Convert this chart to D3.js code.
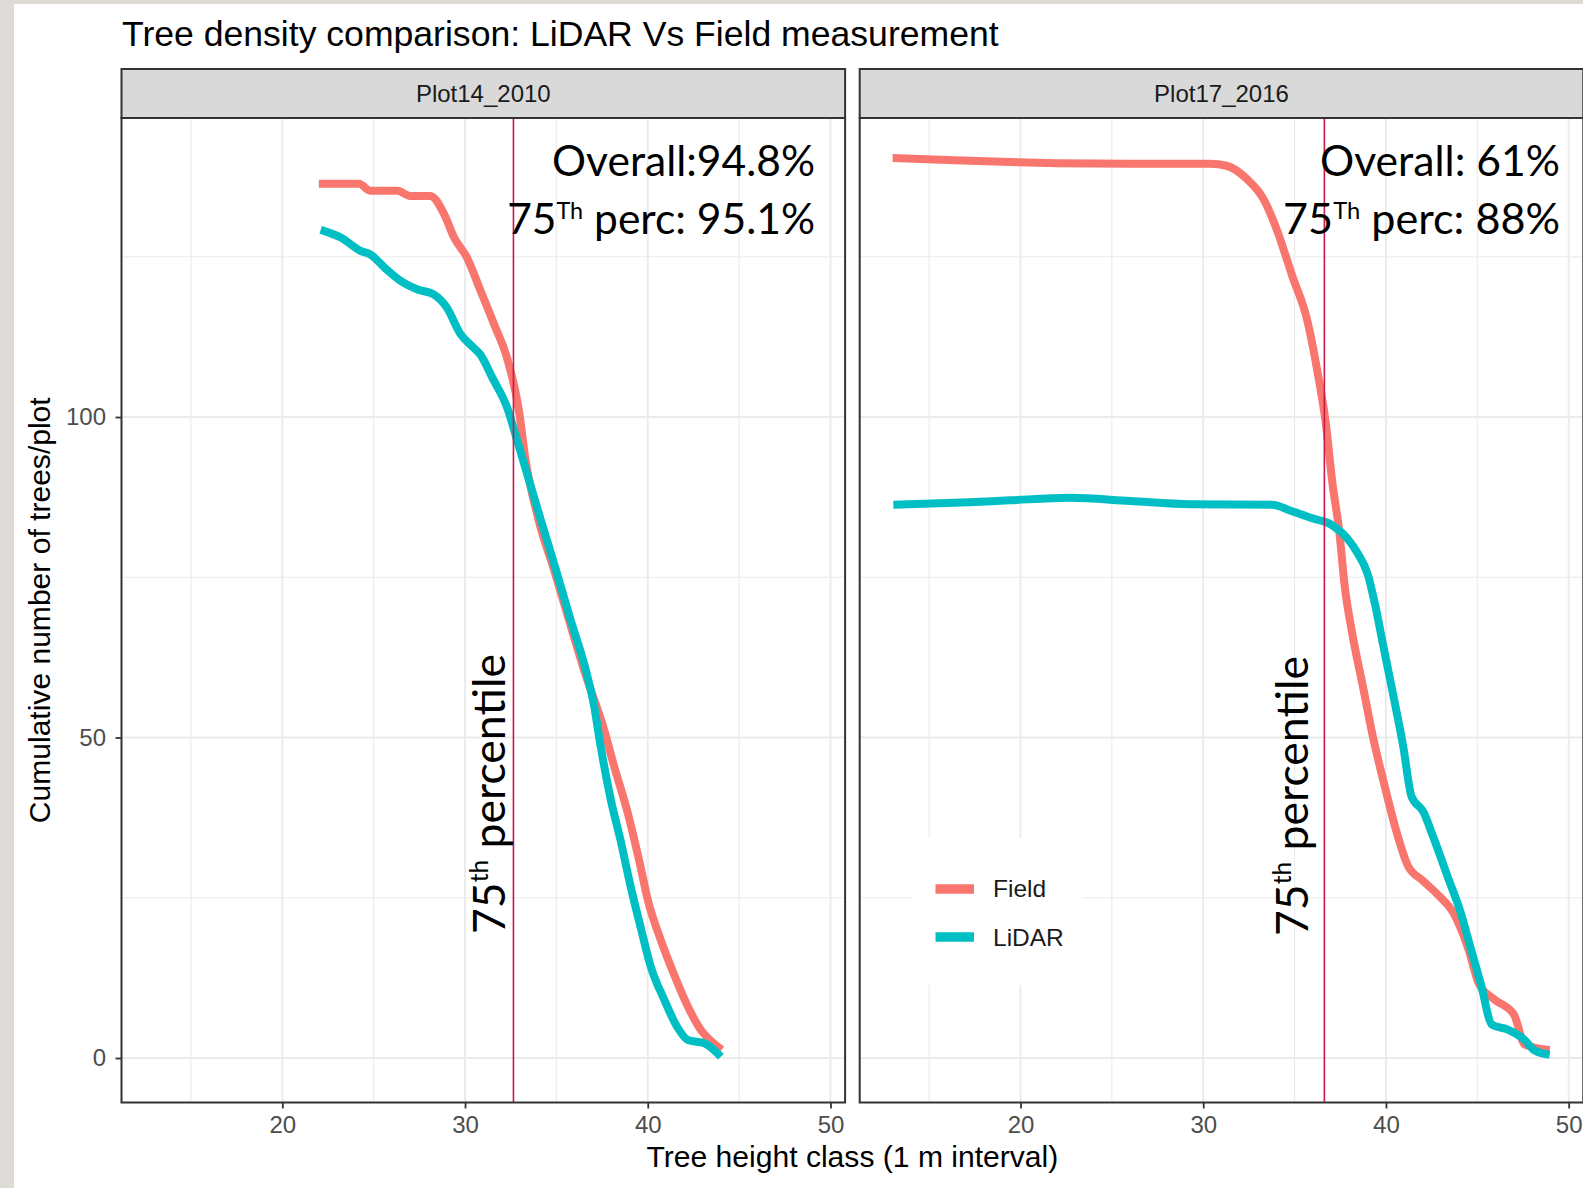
<!DOCTYPE html>
<html>
<head>
<meta charset="utf-8">
<script src="https://cdn.jsdelivr.net/npm/d3@7"></script>
<style>
  html, body { margin: 0; padding: 0; background: #ffffff; }
  svg { display: block; }
</style>
</head>
<body>
<svg id="chart" width="1583" height="1188"></svg>
<script>
// ---- Data: cumulative number of trees per plot by tree height class ----
const panelNames = ["Plot14_2010", "Plot17_2016"];
const seriesNames = ["Field", "LiDAR"];
const seriesColors = ["#F8766D", "#00BFC4"];

// Plot14_2010
const plot14FieldHeight = [22, 24.2, 24.8, 26.3, 27.0, 28.1, 28.85, 29.4, 30.1, 30.85, 31.6, 32.3, 32.95, 33.3, 34.0, 34.9, 35.67, 36.55, 37.6, 38.15, 38.9, 39.6, 40.0, 40.7, 41.4, 42.2, 42.9, 43.6, 44.05];
const plot14FieldCount  = [136.4, 136.4, 135.3, 135.3, 134.5, 134.5, 131.7, 128.0, 124.9, 119.7, 114.4, 109.2, 101.0, 93.5, 84.2, 75.9, 68.5, 60.2, 51.3, 45.6, 38.3, 29.9, 24.7, 18.5, 13.3, 8.0, 4.4, 2.3, 1.3];
const plot14LidarHeight = [22.1, 23.2, 24.3, 24.8, 25.6, 26.5, 27.4, 28.3, 29.0, 29.76, 30.4, 30.85, 31.5, 32.3, 32.92, 34.12, 35.0, 35.76, 36.64, 37.06, 37.4, 37.97, 38.5, 39.06, 39.6, 40.16, 40.9, 41.6, 42.2, 43.1, 44.0];
const plot14LidarCount  = [129.2, 128.0, 125.9, 125.4, 123.3, 121.2, 119.9, 119.1, 117.1, 112.9, 111.0, 109.7, 106.1, 101.5, 95.7, 84.2, 75.9, 68.5, 60.2, 55.0, 49.0, 40.4, 34.1, 26.8, 20.5, 14.3, 9.1, 4.9, 2.8, 2.3, 0.2];

// Plot17_2016
const plot17FieldHeight = [13.0, 16.0, 19.4, 22.0, 26.0, 30.4, 31.27, 32.4, 33.3, 34.03, 34.86, 35.7, 36.25, 36.7, 37.07, 37.46, 37.73, 38.17, 38.73, 39.28, 39.94, 40.67, 41.2, 42.05, 42.9, 43.7, 44.5, 45.1, 45.9, 47.0, 47.6, 48.96];
const plot17FieldCount  = [140.4, 140.1, 139.8, 139.6, 139.5, 139.5, 139.2, 137.1, 134.0, 129.2, 122.1, 115.0, 107.1, 99.2, 89.7, 81.8, 73.9, 66.0, 58.1, 50.2, 42.3, 34.4, 30.0, 27.6, 25.3, 22.6, 17.1, 11.5, 9.2, 6.8, 2.1, 1.25];
const plot17LidarHeight = [13.04, 17.2, 19.4, 22.7, 26.0, 29.3, 33.76, 34.86, 35.97, 37.07, 37.9, 38.46, 39.0, 39.4, 39.84, 40.4, 40.94, 41.4, 42.05, 42.6, 43.4, 44.1, 44.64, 45.2, 45.8, 46.7, 47.6, 48.1, 48.96];
const plot17LidarCount  = [86.3, 86.7, 87.0, 87.4, 86.9, 86.4, 86.3, 85.3, 84.2, 83.1, 81.0, 78.7, 75.5, 70.8, 64.5, 56.6, 48.7, 40.8, 38.4, 34.4, 28.1, 22.6, 17.1, 11.5, 5.2, 4.4, 2.8, 1.25, 0.5];

// 75th percentile height per plot and agreement labels
const percentile75Height = [32.65, 36.63];
const overallLabels = ["Overall:94.8%", "Overall: 61%"];
const percLabels = [" perc: 95.1%", " perc: 88%"];

// Axis ticks
const xTicks = [20, 30, 40, 50];
const xMinorTicks = [15, 25, 35, 45];
const yTicks = [0, 50, 100];
const yMinorTicks = [25, 75, 125];

const panelSeries = [
  [d3.zip(plot14FieldHeight, plot14FieldCount), d3.zip(plot14LidarHeight, plot14LidarCount)],
  [d3.zip(plot17FieldHeight, plot17FieldCount), d3.zip(plot17LidarHeight, plot17LidarCount)]
];

// ---- Layout ----
const W = 1583, H = 1188;
const panelLeft = [121.5, 859.7];
const panelW = 723.6;
const panelTop = 118, panelBottom = 1102.5;
const stripTop = 69;
const xDomain = [11.2, 50.8];
const yDomain = [-6.94, 146.65];

const sansFont = "'Liberation Sans', Arial, Helvetica, sans-serif";
const noteFont = "Lato, 'Open Sans', sans-serif";

const svg = d3.select("#chart");

// page background with the slide edge bands
svg.append("rect").attr("width", W).attr("height", H).attr("fill", "#ffffff");
svg.append("rect").attr("x", 0).attr("y", 0).attr("width", 14).attr("height", H).attr("fill", "#DEDBD6");
svg.append("rect").attr("x", 0).attr("y", 0).attr("width", W).attr("height", 4).attr("fill", "#DEDBD6");

// scale text so that it spans a given width
function fitWidth(sel, target) {
  const w = sel.node().getComputedTextLength();
  const fs = parseFloat(sel.attr("font-size"));
  sel.attr("font-size", fs * target / w);
  return sel;
}

const y = d3.scaleLinear().domain(yDomain).range([panelBottom, panelTop]);

panelNames.forEach((name, p) => {
  const x0 = panelLeft[p];
  const x = d3.scaleLinear().domain(xDomain).range([x0, x0 + panelW]);
  const g = svg.append("g");

  // panel background
  g.append("rect").attr("x", x0).attr("y", panelTop).attr("width", panelW)
    .attr("height", panelBottom - panelTop).attr("fill", "#ffffff");

  // grid
  const grid = g.append("g").attr("stroke", "#EBEBEB").attr("fill", "none");
  grid.selectAll(".vminor").data(xMinorTicks).join("line")
    .attr("x1", d => x(d)).attr("x2", d => x(d)).attr("y1", panelTop).attr("y2", panelBottom)
    .attr("stroke-width", 1.1);
  grid.selectAll(".hminor").data(yMinorTicks).join("line")
    .attr("y1", d => y(d)).attr("y2", d => y(d)).attr("x1", x0).attr("x2", x0 + panelW)
    .attr("stroke-width", 1.1);
  grid.selectAll(".vmajor").data(xTicks).join("line")
    .attr("x1", d => x(d)).attr("x2", d => x(d)).attr("y1", panelTop).attr("y2", panelBottom)
    .attr("stroke-width", 1.9);
  grid.selectAll(".hmajor").data(yTicks).join("line")
    .attr("y1", d => y(d)).attr("y2", d => y(d)).attr("x1", x0).attr("x2", x0 + panelW)
    .attr("stroke-width", 1.9);

  // cumulative curves
  const line = d3.line().curve(d3.curveMonotoneX).x(d => x(d[0])).y(d => y(d[1]));
  panelSeries[p].forEach((pts, s) => {
    g.append("path").datum(pts).attr("d", line)
      .attr("fill", "none").attr("stroke", seriesColors[s])
      .attr("stroke-width", 8).attr("stroke-linejoin", "round").attr("stroke-linecap", "butt");
  });

  // 75th percentile marker
  const px = x(percentile75Height[p]);
  g.append("line").attr("x1", px).attr("x2", px).attr("y1", panelTop).attr("y2", panelBottom)
    .attr("stroke", "#C8184E").attr("stroke-width", 1.6);

  // legend (right panel)
  if (p === 1) {
    const lg = g.append("g");
    lg.append("rect").attr("x", 913).attr("y", 838).attr("width", 169).attr("height", 147).attr("fill", "#ffffff");
    const keyY = [889, 937];
    const labelY = [897, 946];
    seriesNames.forEach((sn, s) => {
      lg.append("line").attr("x1", 935.5).attr("x2", 974).attr("y1", keyY[s]).attr("y2", keyY[s])
        .attr("stroke", seriesColors[s]).attr("stroke-width", 9.5);
      lg.append("text").attr("x", 993).attr("y", labelY[s])
        .attr("font-family", sansFont).attr("font-size", 24.5).attr("fill", "#1A1A1A").text(sn);
    });
  }

  // agreement annotations
  const right = p === 0 ? 815 : 1560;
  const t1 = g.append("text").attr("x", right).attr("y", 176).attr("text-anchor", "end")
    .attr("font-family", noteFont).attr("font-size", 46).attr("fill", "#000").text(overallLabels[p]);
  fitWidth(t1, p === 0 ? 263 : 240);
  const t2 = g.append("text").attr("x", right).attr("y", 233.5).attr("text-anchor", "end")
    .attr("font-family", noteFont).attr("font-size", 46).attr("fill", "#000");
  t2.append("tspan").text("75");
  t2.append("tspan").attr("font-size", "55%").attr("dy", "-0.6em").text("Th");
  t2.append("tspan").attr("font-size", "100%").attr("dy", "0.33em").text(percLabels[p]);
  fitWidth(t2, p === 0 ? 308 : 277);

  // rotated percentile label beside the marker
  const rx = p === 0 ? 505 : 1308;
  const rt = g.append("text").attr("transform", `translate(${rx},${p === 0 ? 934 : 936}) rotate(-90)`)
    .attr("font-family", noteFont).attr("font-size", 44).attr("fill", "#000");
  rt.append("tspan").text("75");
  rt.append("tspan").attr("font-size", "55%").attr("dy", "-0.7em").text("th");
  rt.append("tspan").attr("font-size", "100%").attr("dy", "0.385em").text(" percentile");
  fitWidth(rt, 280);

  // panel border
  g.append("rect").attr("x", x0).attr("y", panelTop).attr("width", panelW)
    .attr("height", panelBottom - panelTop).attr("fill", "none")
    .attr("stroke", "#333333").attr("stroke-width", 2);

  // facet strip
  g.append("rect").attr("x", x0).attr("y", stripTop).attr("width", panelW)
    .attr("height", panelTop - stripTop).attr("fill", "#D9D9D9")
    .attr("stroke", "#333333").attr("stroke-width", 2);
  g.append("text").attr("x", x0 + panelW / 2).attr("y", (stripTop + panelTop) / 2 + 8.6)
    .attr("text-anchor", "middle").attr("font-family", sansFont).attr("font-size", 24)
    .attr("fill", "#1A1A1A").text(name);

  // x axis
  const xa = g.append("g").attr("transform", `translate(0,${panelBottom})`)
    .call(d3.axisBottom(x).tickValues(xTicks).tickSize(6).tickPadding(7).tickFormat(d3.format("d")));
  xa.select(".domain").remove();
  xa.selectAll(".tick line").attr("stroke", "#333333").attr("stroke-width", 1.8);
  xa.selectAll(".tick text").attr("font-family", sansFont).attr("font-size", 24).attr("fill", "#4D4D4D");

  // y axis (left panel only)
  if (p === 0) {
    const ya = g.append("g").attr("transform", `translate(${x0},0)`)
      .call(d3.axisLeft(y).tickValues(yTicks).tickSize(6).tickPadding(9.5).tickFormat(d3.format("d")));
    ya.select(".domain").remove();
    ya.selectAll(".tick line").attr("stroke", "#333333").attr("stroke-width", 1.8);
    ya.selectAll(".tick text").attr("font-family", sansFont).attr("font-size", 24).attr("fill", "#4D4D4D");
  }
});

// titles
const title = svg.append("text").attr("x", 122).attr("y", 45.5)
  .attr("font-family", sansFont).attr("font-size", 36).attr("fill", "#000")
  .text("Tree density comparison: LiDAR Vs Field measurement");
fitWidth(title, 877);

const xTitle = svg.append("text").attr("x", (panelLeft[0] + panelLeft[1] + panelW) / 2).attr("y", 1167)
  .attr("text-anchor", "middle").attr("font-family", sansFont).attr("font-size", 30).attr("fill", "#000")
  .text("Tree height class (1 m interval)");
fitWidth(xTitle, 412);

const yTitle = svg.append("text").attr("transform", `translate(50,${(panelTop + panelBottom) / 2}) rotate(-90)`)
  .attr("text-anchor", "middle").attr("font-family", sansFont).attr("font-size", 30).attr("fill", "#000")
  .text("Cumulative number of trees/plot");
fitWidth(yTitle, 426);
</script>
</body>
</html>
